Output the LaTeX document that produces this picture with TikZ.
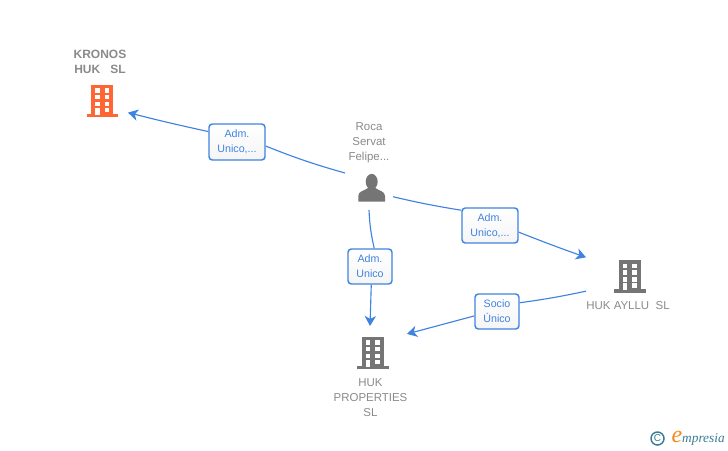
\documentclass[tikz,border=0pt]{standalone}
\usepackage{fontspec}
\setmainfont{Liberation Sans}
\newfontfamily\logofont{Liberation Serif}
\usetikzlibrary{arrows.meta}
\definecolor{linie}{HTML}{3F83E0}
\definecolor{schrift}{HTML}{8A8A8A}
\definecolor{grau}{HTML}{757575}
\definecolor{rot}{HTML}{FF6633}
\definecolor{logoblau}{HTML}{3A7C96}
\definecolor{logoorange}{HTML}{F08A1D}
\def\px{0.75pt}
\tikzset{
  rolle/.style={draw=linie,line width=1.1pt,rounded corners=2.5pt,top color=white,bottom color=black!4,
    text=linie,inner sep=0pt,align=center,font=\fontsize{8}{11.25}\selectfont,
    execute at begin node=\rule{0pt}{7.3pt}},
  firma/.style={text=schrift,align=center,inner sep=0pt,font=\fontsize{8.6}{11.25}\selectfont},
  feld/.style={inner sep=0pt,outer sep=0pt,minimum width=#1*2*\px},
}
\begin{document}
\begin{tikzpicture}[x=\px,y=-\px,>={Stealth[length=7.5pt,width=8.5pt,inset=2.2pt]},line width=0.85pt]
\def\gebaeude#1#2#3{
\begin{scope}[shift={(#1,#2)}]
\fill[#3] (-11,-16) rectangle (11,14);
\fill[#3] (-15.7,13) rectangle (15.7,16.5);
\foreach \zeile in {-12.4,-5.7,1,7.3}{
\fill[white] (-7.2,\zeile) rectangle (-2.6,\zeile+4.5);
\fill[white] (2.4,\zeile) rectangle (7,\zeile+4.5);
}
\fill[white] (-7.2,7.3) rectangle (-2.6,14);
\end{scope}
}
\useasboundingbox (0,0) rectangle (728,450);
% Symbole
\gebaeude{102.3}{100.5}{rot}
\gebaeude{630}{276}{grau}
\gebaeude{373}{352.5}{grau}
\fill[grau] (371.7,181.7) ellipse [x radius=6,y radius=7.8];
\fill[grau] (358.3,201.7) -- (358.3,196) .. controls (358.3,191) and (364,191) .. (368,188) -- (375.5,188)
  .. controls (379,191) and (385,191) .. (385,196) -- (385,201.7) -- cycle;
% Felder um die Symbole
\node[feld=26,minimum height=24*\px] (kronos) at (102,101) {};
\node[feld=24,minimum height=44*\px] (roca) at (369,188) {};
\node[feld=44,minimum height=52*\px] (ayllu) at (630,276) {};
\node[feld=37,minimum height=52*\px] (properties) at (370,352) {};
% Namen
\node[firma,font=\fontsize{9}{11.25}\selectfont\bfseries] (tkronos) at (100,61.5) {KRONOS\\HUK\ \ \ SL};
\node[firma] (troca) at (369,143) {Roca\\Servat\\Felipe...};
\node[firma] (tayllu) at (628,306) {HUK AYLLU\ \ SL};
\node[firma] (tproperties) at (370.5,398) {HUK\\PROPERTIES\\SL};
% Rollen
\node[rolle,minimum width=56*\px,minimum height=36*\px] (adm1) at (237,142) {Adm.\\Unico,...};
\node[rolle,minimum width=56*\px,minimum height=35*\px] (adm2) at (490,225.5) {Adm.\\Unico,...};
\node[rolle,minimum width=44*\px,minimum height=35*\px] (adm3) at (370,266.5) {Adm.\\Unico};
\node[rolle,minimum width=44*\px,minimum height=35*\px] (socio) at (497,311.5) {Socio\\Único};
% Linien
\draw[linie] (roca.148) to[bend left=3] (adm1.-8);
\draw[linie,->] (adm1.160.4) to[bend left=1] (kronos.-24.8);
\draw[linie] (roca.-20.6) to[bend right=2] (adm2.152.6);
\draw[linie,->] (adm2.-13) to[bend right=1] (ayllu.157.8);
\draw[linie] (roca.south) to[bend right=5] (adm3.77);
\draw[linie,->] (adm3.-86) -- (properties.north);
\draw[linie] (ayllu.-161.2) to[bend left=2] (socio.21);
\draw[linie,->] (socio.191.8) -- (properties.26);
% Logo
\node[draw=logoblau,circle,line width=1.1pt,minimum size=13*\px,inner sep=0pt,text=logoblau,font=\fontsize{7.5}{7.5}\selectfont] (copy) at (657.5,438.5) {C};
\node[inner sep=0pt,anchor=base west,text=logoblau,font=\logofont\itshape\fontsize{10}{11}\selectfont] (logo) at (671,442.5)
  {\textcolor{logoorange}{\fontsize{18}{18}\selectfont e}mpresia};
\end{tikzpicture}
\end{document}
